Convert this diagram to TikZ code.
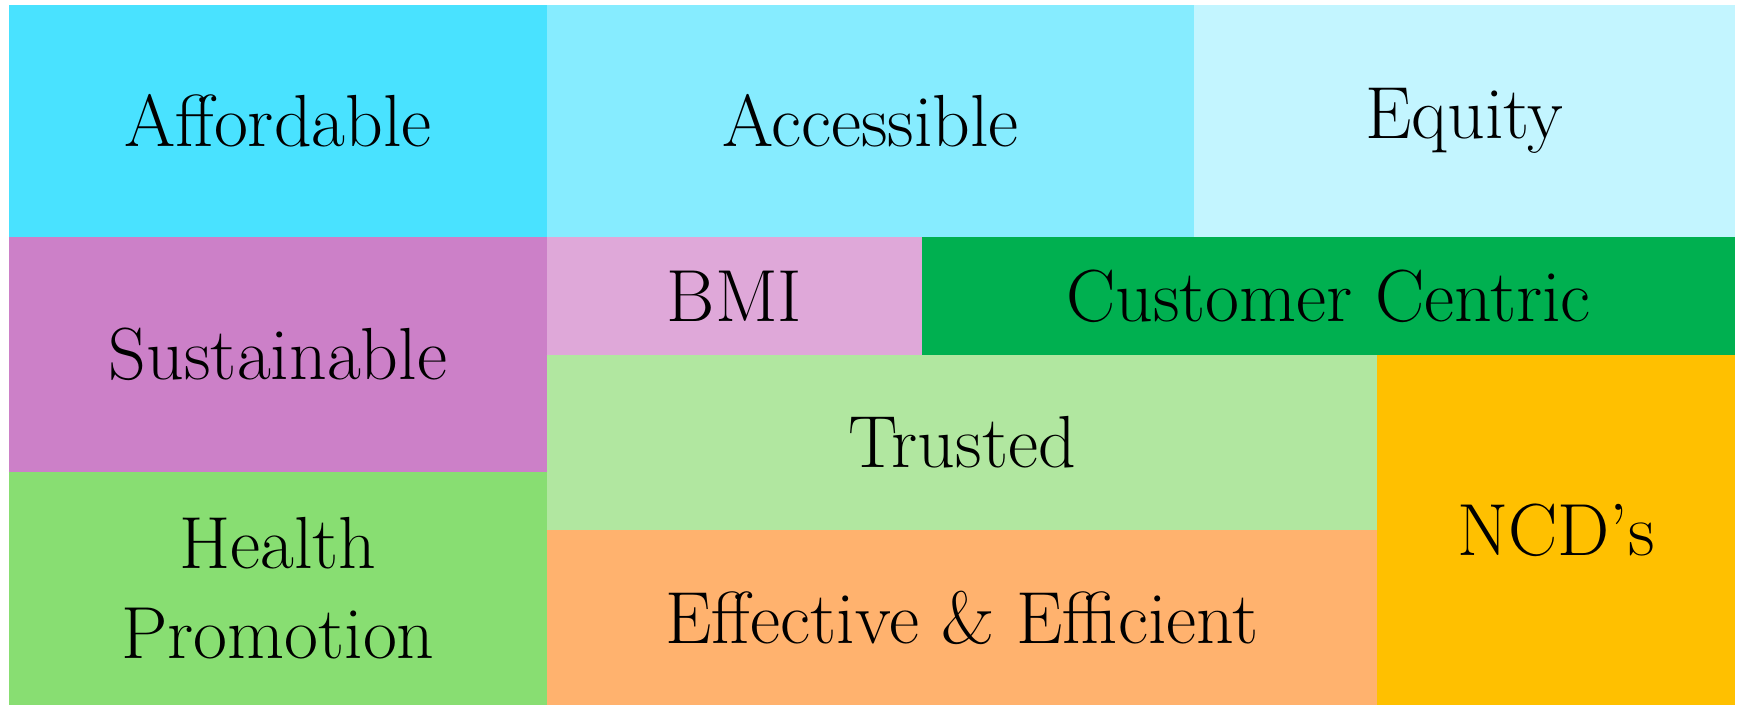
\documentclass[tikz,border=0pt]{standalone}
\usepackage{tikz}
\definecolor{affordcol}{RGB}{73,226,255}
\definecolor{accesscol}{RGB}{134,236,255}
\definecolor{equitycol}{RGB}{195,245,255}
\definecolor{sustaincol}{RGB}{204,128,200}
\definecolor{bmicol}{RGB}{223,168,217}
\definecolor{centriccol}{RGB}{0,176,80}
\definecolor{trustcol}{RGB}{177,231,160}
\definecolor{healthcol}{RGB}{136,222,114}
\definecolor{effectcol}{RGB}{255,178,110}
\definecolor{ncdcol}{RGB}{255,192,0}
\tikzstyle{tile} = [rectangle,inner sep=0pt,text centered,align=center,font=\fontsize{21}{25.6}\selectfont]

\begin{document}
\begin{tikzpicture}
        \useasboundingbox (0,0) rectangle (17.40,7.07);

        %top row
        \node at (2.78,5.86) [tile,fill=affordcol,minimum width=5.38cm,minimum height=2.32cm] (afford) {Affordable};
        \node at (8.705,5.86) [tile,fill=accesscol,minimum width=6.47cm,minimum height=2.32cm] (access) {Accessible};
        \node at (14.645,5.86) [tile,fill=equitycol,minimum width=5.41cm,minimum height=2.32cm] (equity) {Equity};

        %left column
        \node at (2.78,3.525) [tile,fill=sustaincol,minimum width=5.38cm,minimum height=2.35cm] (sustain) {Sustainable};
        \node at (2.78,1.185) [tile,fill=healthcol,minimum width=5.38cm,minimum height=2.33cm] (health) {Health\\Promotion};

        %middle band
        \node at (7.345,4.11) [tile,fill=bmicol,minimum width=3.75cm,minimum height=1.18cm] (bmi) {BMI};
        \node at (13.285,4.11) [tile,fill=centriccol,minimum width=8.13cm,minimum height=1.18cm] (centric) {Customer Centric};

        %lower block
        \node at (9.62,2.645) [tile,fill=trustcol,minimum width=8.30cm,minimum height=1.75cm] (trust) {Trusted};
        \node at (9.62,0.895) [tile,fill=effectcol,minimum width=8.30cm,minimum height=1.75cm] (effect) {Effective \& Efficient};
        \node at (15.56,1.77) [tile,fill=ncdcol,minimum width=3.58cm,minimum height=3.50cm] (ncd) {NCD’s};

    \end{tikzpicture}
\end{document}
